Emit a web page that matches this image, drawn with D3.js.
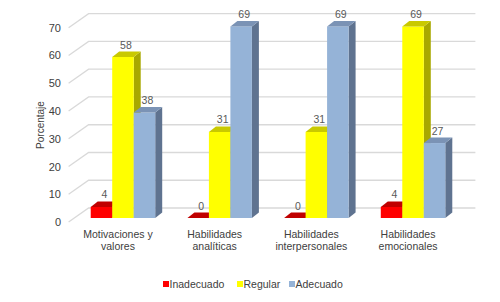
<!DOCTYPE html>
<html>
<head>
<meta charset="utf-8">
<script src="https://cdn.jsdelivr.net/npm/d3@7"></script>
<style>
  body { margin: 0; background: #fff; }
  text { font-family: "Liberation Sans", Arial, sans-serif; }
</style>
</head>
<body>
<div id="chart"></div>
<script>
// data
var categories = ["Motivaciones y\nvalores", "Habilidades\nanalíticas", "Habilidades\ninterpersonales", "Habilidades\nemocionales"];
var series = ["Inadecuado", "Regular", "Adecuado"];
var inadecuado = [4, 0, 0, 4];
var regular = [58, 31, 31, 69];
var adecuado = [38, 69, 69, 27];
var yTicks = [0, 10, 20, 30, 40, 50, 60, 70];

var values = [inadecuado, regular, adecuado];
var colors = [
  {front: "#ff0000", top: "#c00000", side: "#a00000"},
  {front: "#ffff00", top: "#c9c900", side: "#a8a800"},
  {front: "#95b3d7", top: "#7b93b5", side: "#5f7390"}
];

var width = 500, height = 302;

// offsets for the fake 3d look
var BX = 14, BY = -10;   // back wall relative to bar front plane
var FX = -6, FY = 4;     // floor front edge
var DX = 7, DY = -5.5;   // bar depth

var svg = d3.select("#chart")
  .append("svg")
    .attr("width", width)
    .attr("height", height);

var x0 = d3.scaleBand()
  .domain(categories)
  .range([74.6, 461.4])
  .paddingInner(0.333)
  .paddingOuter(0.1667);

var x1 = d3.scaleBand()
  .domain(series)
  .range([0, x0.bandwidth()]);

var y = d3.scaleLinear()
  .domain([0, 70])
  .range([218, 23.7]);

var xl = x0.range()[0], xr = x0.range()[1];

// gridlines on back wall + side
svg.append("g")
  .selectAll("path")
  .data(yTicks)
  .enter()
  .append("path")
    .attr("d", function (t) {
      return "M" + (xl + FX) + "," + (y(t) + FY) +
             "L" + (xl + BX) + "," + (y(t) + BY) +
             "L" + (xr + BX) + "," + (y(t) + BY);
    })
    .attr("fill", "none")
    .attr("stroke", "#d9d9d9")
    .attr("stroke-width", 1.3);

// y axis labels
var yAxis = svg.append("g")
  .attr("transform", "translate(63," + FY + ")")
  .call(d3.axisLeft(y).tickValues(yTicks).tickSize(0).tickPadding(2));
yAxis.select(".domain").remove();
yAxis.selectAll("text")
  .attr("fill", "#404040")
  .style("font-size", "11px")
  .style("font-family", "'Liberation Sans', Arial, sans-serif");

svg.append("text")
  .attr("transform", "translate(44,125) rotate(-90)")
  .attr("text-anchor", "middle")
  .attr("fill", "#404040")
  .style("font-size", "10px")
  .text("Porcentaje");

// bars
var bw = x1.bandwidth();
categories.forEach(function (c, ci) {
  var g = svg.append("g");
  series.forEach(function (s, si) {
    var v = values[si][ci];
    var bx = x0(c) + x1(s);
    var top = y(v), base = y(0);
    var col = colors[si];
    // side
    g.append("path")
      .attr("d", "M" + (bx + bw) + "," + base + "L" + (bx + bw) + "," + top +
                 "L" + (bx + bw + DX) + "," + (top + DY) + "L" + (bx + bw + DX) + "," + (base + DY) + "Z")
      .attr("fill", col.side);
    // front
    g.append("rect")
      .attr("x", bx)
      .attr("y", top)
      .attr("width", bw)
      .attr("height", base - top)
      .attr("fill", col.front);
    // top
    g.append("path")
      .attr("d", "M" + bx + "," + top + "L" + (bx + DX) + "," + (top + DY) +
                 "L" + (bx + bw + DX) + "," + (top + DY) + "L" + (bx + bw) + "," + top + "Z")
      .attr("fill", col.top);
    // value label
    svg.append("text")
      .attr("x", bx + bw / 2 + 3)
      .attr("y", top + DY - 3)
      .attr("text-anchor", "middle")
      .attr("fill", "#595959")
      .style("font-size", "10.5px")
      .text(v);
  });
});

// category labels
svg.append("g")
  .selectAll("text")
  .data(categories)
  .enter()
  .append("text")
    .attr("text-anchor", "middle")
    .attr("fill", "#404040")
    .style("font-size", "10.5px")
    .each(function (c) {
      var t = d3.select(this);
      var cx = x0(c) + x0.bandwidth() / 2 - 5;
      c.split("\n").forEach(function (line, i) {
        t.append("tspan")
          .attr("x", cx)
          .attr("y", 238 + i * 12)
          .text(line);
      });
    });

// legend
var legendX = [163, 237, 289];
var legend = svg.append("g")
  .selectAll("g")
  .data(series)
  .enter()
  .append("g")
    .attr("transform", function (d, i) { return "translate(" + legendX[i] + ",284)"; });
legend.append("rect")
  .attr("x", 0)
  .attr("y", -3)
  .attr("width", 6)
  .attr("height", 6)
  .attr("fill", function (d, i) { return colors[i].front; });
legend.append("text")
  .attr("x", 6.5)
  .attr("y", 4)
  .attr("fill", "#404040")
  .style("font-size", "10.5px")
  .text(function (d) { return d; });
</script>
</body>
</html>
